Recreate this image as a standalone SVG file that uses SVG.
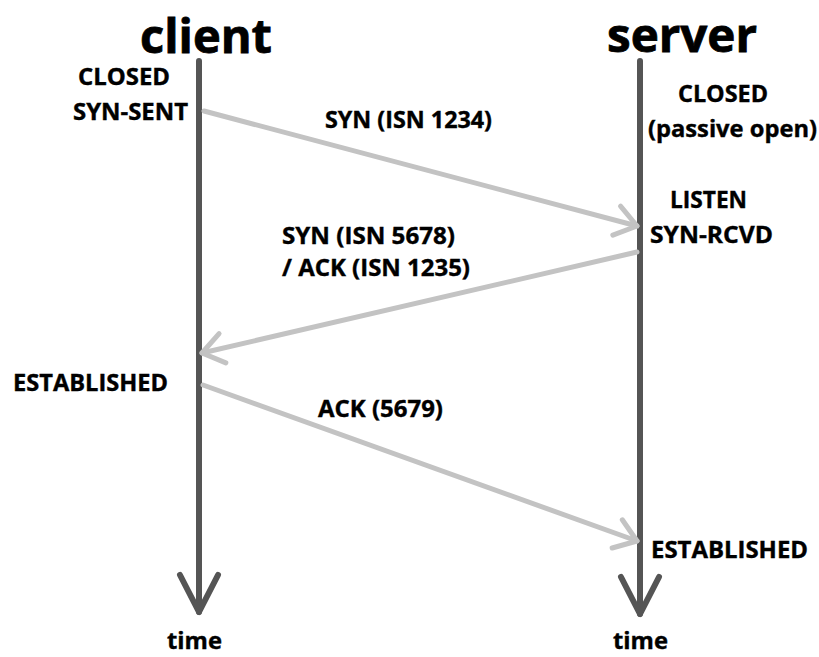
<svg xmlns="http://www.w3.org/2000/svg" width="819" height="657" viewBox="0 0 819 657">
  <style>
    text { font-family: "Open Sans", "Noto Sans", "Liberation Sans", sans-serif; font-weight: bold; fill: #000; }
    .title { font-size: 47px; stroke: #000; stroke-width: 0.8; }
    .lbl { font-size: 24px; stroke: #000; stroke-width: 0.4; }
    .timeline { stroke: #555; stroke-width: 6; stroke-linecap: round; fill: none; }
    .msg { stroke: #c3c3c3; stroke-width: 5; stroke-linecap: round; fill: none; }
  </style>
  <defs>
    <marker id="timeHead" markerUnits="userSpaceOnUse" orient="auto" overflow="visible" markerWidth="1" markerHeight="1">
      <path d="M-37,-19 L0,0 L-37,19" fill="none" stroke="#555" stroke-width="6" stroke-linecap="round" stroke-linejoin="round"/>
    </marker>
    <marker id="msgHead" markerUnits="userSpaceOnUse" orient="auto" overflow="visible" markerWidth="1" markerHeight="1">
      <path d="M-21,-15 L0,0 L-21,15" fill="none" stroke="#c3c3c3" stroke-width="5" stroke-linecap="round" stroke-linejoin="round"/>
    </marker>
  </defs>

  <g id="client">
    <text class="title" x="140" y="53" textLength="132" lengthAdjust="spacingAndGlyphs">client</text>
    <line class="timeline" x1="199" y1="61" x2="199" y2="612" marker-end="url(#timeHead)"/>
    <text class="lbl" x="78" y="85" textLength="92" lengthAdjust="spacingAndGlyphs">CLOSED</text>
    <text class="lbl" x="73" y="120" textLength="115" lengthAdjust="spacingAndGlyphs">SYN-SENT</text>
    <text class="lbl" x="13" y="391" textLength="155" lengthAdjust="spacingAndGlyphs">ESTABLISHED</text>
    <text class="lbl" x="167" y="649" textLength="55" lengthAdjust="spacingAndGlyphs">time</text>
  </g>

  <g id="server">
    <text class="title" x="607" y="52" textLength="150" lengthAdjust="spacingAndGlyphs">server</text>
    <line class="timeline" x1="640" y1="61" x2="640" y2="614" marker-end="url(#timeHead)"/>
    <text class="lbl" x="678" y="102" textLength="90" lengthAdjust="spacingAndGlyphs">CLOSED</text>
    <text class="lbl" x="648" y="137" textLength="169" lengthAdjust="spacingAndGlyphs">(passive open)</text>
    <text class="lbl" x="670" y="208" textLength="77" lengthAdjust="spacingAndGlyphs">LISTEN</text>
    <text class="lbl" x="650" y="243" textLength="123" lengthAdjust="spacingAndGlyphs">SYN-RCVD</text>
    <text class="lbl" x="651" y="558" textLength="157" lengthAdjust="spacingAndGlyphs">ESTABLISHED</text>
    <text class="lbl" x="613" y="649" textLength="55" lengthAdjust="spacingAndGlyphs">time</text>
  </g>

  <g id="connectors">
    <line class="msg" x1="204" y1="111" x2="637" y2="226" marker-end="url(#msgHead)"/>
    <line class="msg" x1="637" y1="252" x2="202" y2="353" marker-end="url(#msgHead)"/>
    <line class="msg" x1="203" y1="385" x2="637" y2="541" marker-end="url(#msgHead)"/>
    <text class="lbl" x="325" y="128" textLength="167" lengthAdjust="spacingAndGlyphs">SYN (ISN 1234)</text>
    <text class="lbl" x="282" y="244" textLength="173" lengthAdjust="spacingAndGlyphs">SYN (ISN 5678)</text>
    <text class="lbl" x="282" y="276" textLength="188" lengthAdjust="spacingAndGlyphs">/ ACK (ISN 1235)</text>
    <text class="lbl" x="318" y="417" textLength="125" lengthAdjust="spacingAndGlyphs">ACK (5679)</text>
  </g>
</svg>
